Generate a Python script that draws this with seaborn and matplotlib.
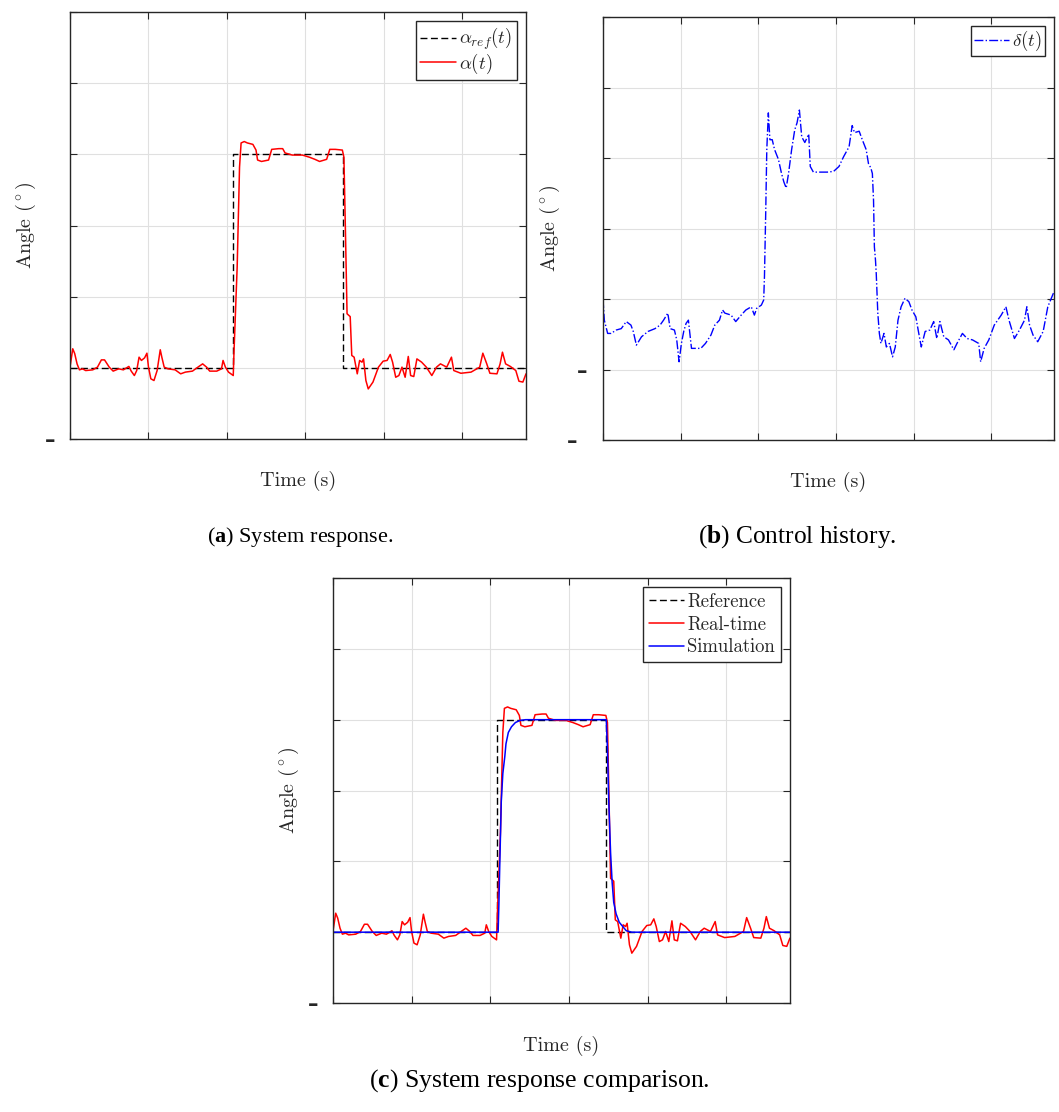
import matplotlib
matplotlib.use("Agg")
import matplotlib.pyplot as plt
import seaborn as sns

# ---------------- data ----------------
time_ticks = [0, 10, 20, 30, 40, 50]
t_end = 58.1
angle_ticks = [-5, 0, 5, 10, 15, 20, 25]
control_ticks = [-10, -5, 0, 5, 10, 15, 20]

ref_t = [0, 20.8, 20.8, 34.75, 34.75, 58.1]
ref_v = [0, 0, 15, 15, 0, 0]

alpha_t = [0.0, 0.35, 0.6, 0.9, 1.2, 1.6, 2.0, 2.9, 3.5, 4.0,
           4.4, 5.0, 5.5, 6.2, 6.8, 7.5, 7.8, 8.2, 8.5, 8.8,
           9.1, 9.5, 9.8, 10.0, 10.3, 10.7, 11.1, 11.5, 11.7, 12.0,
           12.5, 13.4, 14.1, 14.7, 15.6, 16.3, 16.9, 17.4, 17.8, 18.7,
           19.3, 19.5, 19.8, 20.2, 20.8, 20.9, 21.3, 21.6, 21.8, 22.2,
           22.6, 23.3, 23.7, 23.9, 24.4, 25.3, 25.7, 26.6, 27.1, 27.4,
           28.3, 29.6, 30.5, 31.2, 31.8, 32.7, 33.1, 33.8, 34.7, 34.9,
           35.1, 35.3, 35.7, 35.9, 36.2, 36.6, 36.9, 37.2, 37.4, 37.7,
           38.0, 38.6, 39.3, 39.9, 40.4, 40.8, 41.1, 41.5, 41.9, 42.3,
           42.7, 43.1, 43.4, 43.8, 44.2, 44.8, 45.4, 46.1, 46.7, 47.2,
           48.0, 48.6, 48.9, 49.8, 51.1, 52.2, 52.6, 53.1, 53.5, 54.4,
           54.8, 55.1, 55.5, 56.1, 56.8, 57.2, 57.7, 58.1]
alpha_v = [0.05, 1.34, 1.0, 0.28, -0.14, -0.07, -0.19, -0.14, 0.05, 0.56,
           0.56, 0.05, -0.23, -0.07, -0.14, 0.1, -0.23, -0.54, -0.19, 0.75,
           0.52, 0.7, 1.03, 0.05, -0.77, -0.89, -0.19, 1.27, 0.75, 0.05,
           -0.07, -0.14, -0.42, -0.3, -0.23, 0.05, 0.28, 0.05, -0.23, -0.23,
           -0.07, 0.52, 0.05, -0.3, -0.54, 1.2, 7.1, 14.1, 15.8, 15.9,
           15.8, 15.7, 15.3, 14.6, 14.5, 14.6, 15.35, 15.4, 15.4, 15.1,
           14.95, 14.95, 14.8, 14.65, 14.5, 14.65, 15.35, 15.35, 15.3, 14.8,
           9.4, 3.8, 3.6, 0.87, 0.75, -0.42, 0.52, 0.4, 0.63, -0.89,
           -1.48, -1.0, 0.05, 0.47, 0.52, 0.94, 0.4, -0.66, -0.54, 0.05,
           -0.66, 0.8, -0.54, -0.61, 0.63, 0.4, 0.05, -0.54, 0.05, 0.28,
           0.05, 0.75, -0.19, -0.38, -0.3, 0.05, 1.03, 0.28, -0.38, -0.42,
           0.28, 1.1, 0.28, 0.1, -0.19, -0.94, -1.0, -0.42]

delta_t = [0, 0.17, 0.6, 1.04, 1.7, 2.35, 3.0, 3.6, 3.9, 4.3,
           4.96, 5.8, 6.7, 7.35, 7.8, 8.35, 8.65, 9.2, 9.5, 9.8,
           10.1, 10.4, 10.7, 11.0, 11.4, 11.9, 12.6, 13.2, 13.9, 14.4,
           15.0, 15.4, 15.7, 16.5, 17.1, 17.8, 18.4, 19.1, 19.5, 19.8,
           20.4, 20.7, 20.8, 20.96, 21.1, 21.3, 21.5, 21.8, 22.1, 22.6,
           23.0, 23.3, 23.6, 23.9, 24.3, 24.7, 25.0, 25.3, 25.6, 26.0,
           26.5, 26.7, 27.1, 28.0, 28.9, 29.7, 30.4, 31.0, 31.7, 32.1,
           32.4, 33.0, 33.4, 33.9, 34.2, 34.5, 34.7, 34.85, 34.96, 35.1,
           35.2, 35.4, 35.6, 35.8, 36.2, 36.5, 36.9, 37.3, 37.65, 38.0,
           38.4, 38.9, 39.4, 39.8, 40.3, 40.6, 41.0, 41.5, 42.1, 42.6,
           43.0, 43.4, 43.9, 44.5, 45.2, 45.6, 46.3, 46.9, 47.6, 48.4,
           48.65, 49.1, 49.7, 50.4, 51.3, 51.9, 52.3, 53.0, 53.65, 54.3,
           54.6, 54.95, 55.4, 56.0, 56.7, 57.3, 58.1]
delta_v = [0, -1.5, -2.44, -2.44, -2.2, -2.1, -1.6, -1.85, -2.3, -3.27,
           -2.68, -2.3, -2.1, -1.85, -1.5, -1.0, -2.1, -2.2, -2.9, -4.45,
           -3.15, -2.3, -1.73, -1.5, -3.5, -3.5, -3.5, -3.15, -2.56, -1.85,
           -1.5, -0.78, -1.0, -1.14, -1.6, -1.14, -0.78, -0.55, -1.14, -0.66,
           -0.43, -0.07, 1.6, 6.1, 10.6, 13.2, 11.3, 11.3, 10.6, 9.9,
           8.9, 8.3, 7.87, 8.9, 10.6, 12.0, 12.5, 13.4, 11.5, 11.1,
           11.7, 9.4, 9.0, 9.0, 9.0, 9.05, 9.4, 10.1, 10.8, 12.3,
           11.8, 11.9, 11.3, 10.6, 9.6, 9.3, 8.9, 7.0, 3.7, 2.77,
           1.8, -1.0, -2.44, -3.15, -2.44, -3.4, -3.15, -4.1, -3.4, -1.5,
           -0.55, 0.05, -0.19, -0.78, -1.26, -2.2, -3.4, -2.3, -2.2, -1.6,
           -2.8, -1.6, -2.68, -2.9, -3.6, -3.15, -2.44, -2.8, -2.9, -3.15,
           -4.45, -3.5, -2.9, -1.85, -1.14, -0.55, -1.5, -2.8, -2.2, -1.5,
           -0.55, -1.85, -2.56, -3.03, -2.3, -0.55, 0.52]

sim_t = [0, 21.0, 21.1, 21.2, 21.4, 21.6, 21.85, 22.0, 22.3, 22.7, 23.2, 23.8,
         24.5, 34.75, 34.9, 35.07, 35.3, 35.5, 35.7, 36.0, 36.4, 37.3, 38.0, 58.1]
sim_v = [0, 0, 2.0, 4.5, 9.2, 11.2, 12.4, 13.3, 14.1, 14.5, 14.8, 14.95,
         15.0, 15.0, 13.0, 9.2, 5.6, 3.5, 2.1, 1.3, 0.7, 0.1, 0, 0]

captions = ["System response.", "Control history.", "System response comparison."]
caption_tags = ["a", "b", "c"]

# ---------------- style ----------------
sns.set_theme(style="white")
plt.rcParams["font.family"] = ["cmr10", "DejaVu Serif"]
plt.rcParams["mathtext.fontset"] = "cm"
plt.rcParams["axes.formatter.use_mathtext"] = True
plt.rcParams["mathtext.bf"] = "Liberation Serif:bold"
plt.rcParams["mathtext.rm"] = "Liberation Serif"

EDGE = "#262626"
DASH = (0, (5, 2.5))
fig = plt.figure(figsize=(10.59, 11.12), dpi=100)
ax_a = fig.add_axes([0.0661, 0.6052, 0.4306, 0.3840])
ax_b = fig.add_axes([0.5694, 0.6043, 0.4259, 0.3804])
ax_c = fig.add_axes([0.3144, 0.0980, 0.4315, 0.3822])


def style_axis(ax, yticks, pads, xlab_off, ylab_off):
    ax.set_facecolor("white")
    ax.set_xlim(0, t_end)
    ax.set_ylim(yticks[0], yticks[-1])
    ax.set_xticks(time_ticks)
    ax.set_xticklabels([""] * len(time_ticks))
    ax.set_yticks(yticks)
    ax.set_yticklabels(["–" if v < 0 else "" for v in yticks],
                       fontfamily="DejaVu Sans", fontsize=15, fontweight="bold")
    ax.grid(True, color="#e0e0e0", lw=0.8)
    ax.set_axisbelow(True)
    ax.tick_params(direction="in", length=5, width=0.8, colors=EDGE,
                   top=True, right=True, bottom=True, left=True)
    for tick, v in zip(ax.yaxis.get_major_ticks(), yticks):
        tick.set_pad(pads.get(v, 10.8))
    for s in ax.spines.values():
        s.set_visible(True)
        s.set_color(EDGE)
        s.set_linewidth(1.0)
    ax.set_xlabel("Time (s)", fontsize=14.5, color=EDGE)
    ax.xaxis.set_label_coords(0.5, -xlab_off)
    ax.xaxis.label.set_va("center")
    ax.set_ylabel(r"Angle ($^\circ$)", fontsize=14.5, color=EDGE)
    ax.yaxis.set_label_coords(-ylab_off, 0.5)
    ax.yaxis.label.set_va("center")


def add_legend(ax, spacing=0.25, bpad=0.3):
    leg = ax.legend(loc="upper right", fontsize=13.5, frameon=True, fancybox=False,
                    framealpha=1.0, edgecolor=EDGE, borderaxespad=0.5,
                    borderpad=bpad, labelspacing=spacing, handlelength=1.9,
                    handletextpad=0.15)
    leg.get_frame().set_linewidth(1.0)
    return leg


# (a) system response
sns.lineplot(x=ref_t, y=ref_v, ax=ax_a, color="black", linestyle=DASH, lw=1.0,
             estimator=None, sort=False, label=r"$\alpha_{ref}(t)$")
sns.lineplot(x=alpha_t, y=alpha_v, ax=ax_a, color="red", lw=1.1,
             estimator=None, sort=False, label=r"$\alpha(t)$")
style_axis(ax_a, angle_ticks, {}, 0.098, 0.0965)
add_legend(ax_a, spacing=-0.05, bpad=0.25)

# (b) control history
sns.lineplot(x=delta_t, y=delta_v, ax=ax_b, color="blue", linestyle="-.", lw=1.0,
             estimator=None, sort=False, label=r"$\delta(t)$")
style_axis(ax_b, control_ticks, {-10: 18.7, -5: 11.5}, 0.099, 0.118)
add_legend(ax_b, bpad=0.15)

# (c) comparison
sns.lineplot(x=ref_t, y=ref_v, ax=ax_c, color="black", linestyle=DASH, lw=1.0,
             estimator=None, sort=False, label="Reference")
sns.lineplot(x=alpha_t, y=alpha_v, ax=ax_c, color="red", lw=1.1,
             estimator=None, sort=False, label="Real-time")
sns.lineplot(x=sim_t, y=sim_v, ax=ax_c, color="blue", lw=1.1,
             estimator=None, sort=False, label="Simulation")
style_axis(ax_c, angle_ticks, {}, 0.101, 0.096)
add_legend(ax_c)

# sub-captions
cap_pos = [(300 / 1059, 1 - 537 / 1112, 16.0),
           (797 / 1059, 1 - 537 / 1112, 18.3),
           (539 / 1059, 1 - 1081 / 1112, 18.5)]
for (x, y, fs), tag, cap in zip(cap_pos, caption_tags, captions):
    fig.text(x, y, r"($\mathbf{%s}$) %s" % (tag, cap), ha="center", va="center",
             fontsize=fs, family="Liberation Serif", math_fontfamily="custom",
             color="black")

fig.savefig("out.png", dpi=100, facecolor="white")
